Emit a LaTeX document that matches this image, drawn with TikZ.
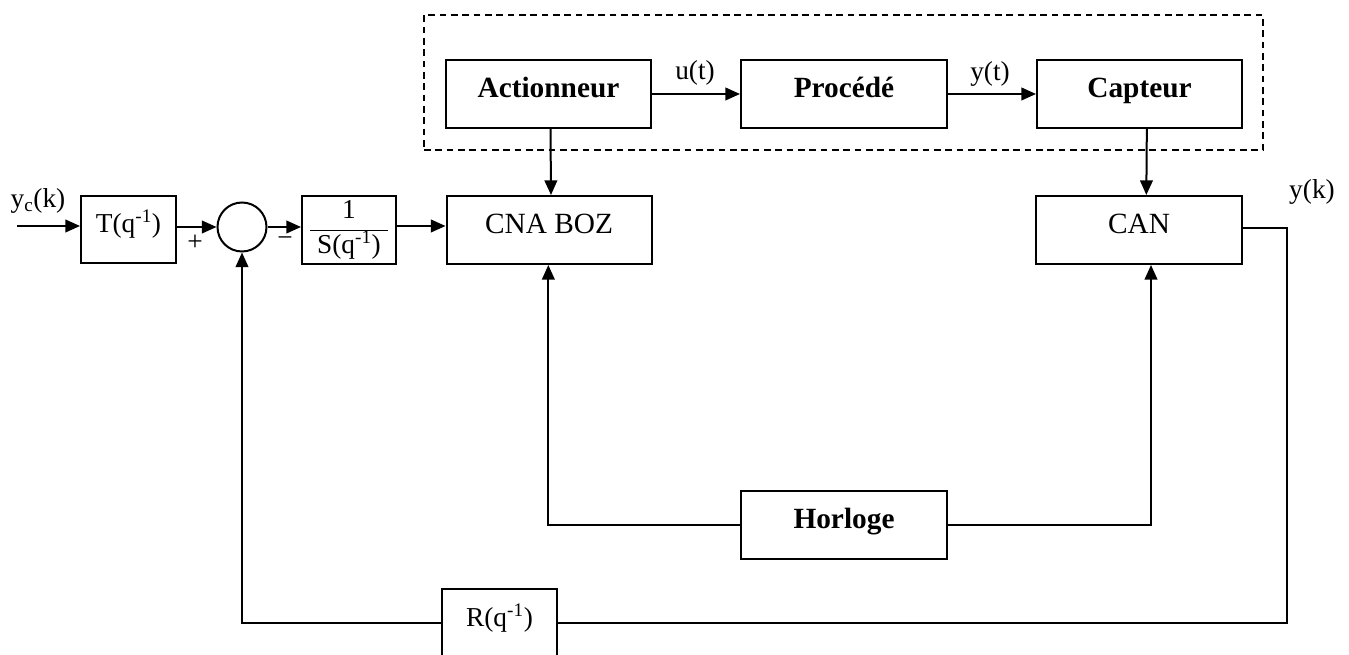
\documentclass[tikz,border=0pt]{standalone}
\usepackage{fontspec}
\setmainfont{Liberation Serif}
\usetikzlibrary{arrows.meta}
\setlength{\arrayrulewidth}{1.1pt}
\begin{document}
\begin{tikzpicture}[x=0.75pt,y=-0.75pt,
  sz/.style 2 args={minimum width={#1*0.75pt},minimum height={#2*0.75pt}},
  blk/.style={draw, line width=1.5pt, inner sep=0pt, text height=0.72em, text depth=0.22em, font=\fontsize{22}{24}\selectfont},
  bblk/.style={blk, font=\fontsize{22}{24}\selectfont\bfseries},
  sblk/.style={blk, font=\fontsize{20.5}{22}\selectfont},
  arr/.style={-{Triangle[length=11pt,width=9.5pt]}, line width=1.5pt},
  ln/.style={line width=1.5pt},
  lbl/.style={inner sep=0pt, font=\fontsize{20.5}{22}\selectfont}]
\useasboundingbox (0,0) rectangle (1349,655);
% group
\node[draw, dashed, dash pattern=on 5pt off 3.5pt, line width=1.3pt, sz={839}{135}] (grp) at (843.5,82.5) {};
% blocks
\node[bblk, sz={205}{68}] (act) at (548.5,94) {Actionneur};
\node[bblk, sz={206}{68}] (proc) at (844,94) {Procédé};
\node[bblk, sz={205}{68}] (capt) at (1139.5,94) {Capteur};
\node[blk, sz={205}{68}] (cna) at (549,230) {CNA BOZ};
\node[blk, sz={206}{68}] (can) at (1139,230) {CAN};
\node[bblk, sz={206}{68}] (hor) at (844,525) {Horloge};
\node[sblk, sz={95}{67}] (tbox) at (128.5,229.5) {T(q\textsuperscript{-1})};
\node[draw, circle, line width=1.5pt, minimum size={49*0.75pt}, inner sep=0pt] (sum) at (242,227) {};
\node[blk, sz={94}{68}, text height=, text depth=, font=\fontsize{20.5}{22}\selectfont] (sbox) at (349,230) {\renewcommand{\arraystretch}{1.0}\begin{tabular}{@{\hspace{5pt}}c@{\hspace{5pt}}}1\\[2pt]\hline S(q\textsuperscript{-1})\end{tabular}};
\node[sblk, sz={115}{68}] (rbox) at (499.5,623) {R(q\textsuperscript{-1})};
% coordinates
\coordinate (yin) at (17,226);
\coordinate (ycor) at (1287,623);
% connectors
\draw[arr] (yin) -- (tbox.west |- yin);
\draw[arr] (tbox.east |- sum) -- (sum);
\draw[arr] (sum) -- (sbox.west |- sum);
\draw[arr] (sbox.east |- yin) -- (cna.west |- yin);
\draw[arr] (act.east) -- (proc.west);
\draw[arr] (proc.east) -- (capt.west);
\draw[arr] ([xshift=1.5pt]act.south) -- ([xshift=1.5pt]cna.north);
\draw[arr] ([xshift=5.5pt]capt.south) -- ([xshift=5.5pt]can.north);
\draw[arr] (hor.west) -| ([xshift=-0.5pt]cna.south);
\draw[arr] (hor.east) -| ([xshift=9pt]can.south);
\draw[ln] ([yshift=1.5pt]can.east) -| (ycor) -- (rbox.east);
\draw[arr] (rbox.west) -| (sum.south);
% labels
\node[lbl] (lyc) at (38,201) {y\textsubscript{c}(k)};
\node[lbl] (lu) at (695,73) {u(t)};
\node[lbl] (ly) at (990,74) {y(t)};
\node[lbl] (lyk) at (1312,192) {y(k)};
\node[lbl] (lp) at (195,243) {+};
\node[lbl] (lm) at (285,242) {−};
\end{tikzpicture}
\end{document}
